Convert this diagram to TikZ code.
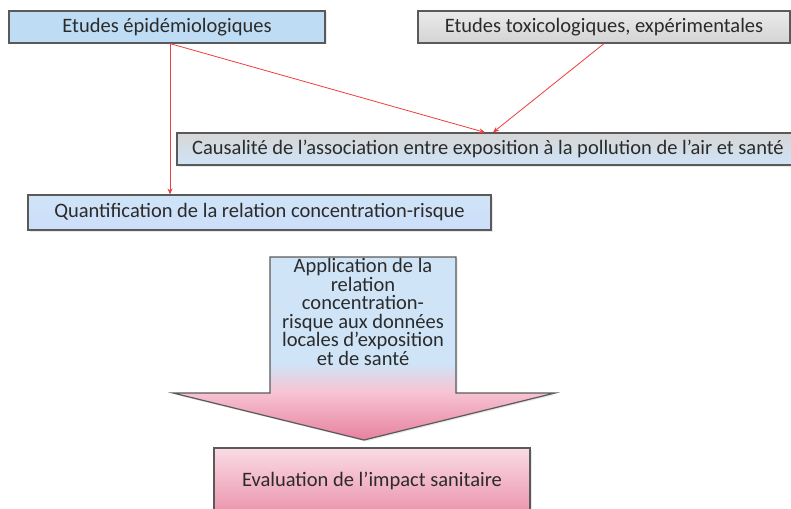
\documentclass[tikz,border=0pt]{standalone}
\usepackage{fontspec}
\setmainfont{Carlito}
\usetikzlibrary{shadows,arrows.meta}
\definecolor{txt}{HTML}{2B2B2B}
\definecolor{bord}{HTML}{5A5A5A}
\definecolor{lblue}{HTML}{BEDDF5}
\definecolor{lblueA}{HTML}{CFE4F7}
\definecolor{pinkA}{HTML}{F7C3D3}
\definecolor{pinkB}{HTML}{E7819F}
\definecolor{redline}{HTML}{F03C3C}
\pgfdeclareverticalshading{arrowshade}{100bp}{color(0bp)=(pinkB); color(25bp)=(pinkB); color(38bp)=(pinkA); color(46bp)=(lblueA); color(75bp)=(lblueA); color(100bp)=(lblueA)}
\begin{document}
\begin{tikzpicture}[x=1pt,y=-1pt,
  box/.style={draw=bord, line width=1.2pt, text=txt, inner sep=0pt,
    font=\fontsize{20.5}{18.5}\selectfont,
    drop shadow={opacity=0.18, shadow xshift=1.5pt, shadow yshift=-1.5pt}},
  link/.style={draw=redline, line width=0.8pt, -{Stealth[length=6pt,width=5pt]}}]
\useasboundingbox (0,0) rectangle (791,508);
\clip (0,0) rectangle (791,508);
\node[box, fill=lblue, minimum width=316pt, minimum height=32pt] (b1) at (167,27) {Etudes épidémiologiques};
\node[box, top color=white!92!black, bottom color=white!83!black, minimum width=372pt, minimum height=32pt] (b2) at (604,27) {Etudes toxicologiques, expérimentales};
\node[box, top color=white!84!black, bottom color=lblueA, minimum width=622pt, minimum height=32pt] (b3) at (488,149) {Causalité de l’association entre exposition à la pollution de l’air et santé};
\node[box, top color=lblueA, bottom color=lblue!90!blue!60!white, minimum width=463pt, minimum height=35pt] (b4) at (259.5,212.5) {Quantification de la relation concentration-risque};
\node[box, top color=pinkA!60!white, bottom color=pinkB!85!white, minimum width=316pt, minimum height=66pt] (b5) at (372,481) {Evaluation de l’impact sanitaire};
% big arrow
\path[draw=bord, line width=1.2pt, shading=arrowshade,
  drop shadow={opacity=0.18, shadow xshift=1.5pt, shadow yshift=-1.5pt}]
  (270,257) -- (456,257) -- (456,393) -- (555,393) -- (364,440) -- (173,393) -- (270,393) -- cycle;
\node[text=txt, align=center, font=\fontsize{20.5}{18.5}\selectfont, inner sep=0pt] (t) at (363,312)
  {Application de la\\relation\\concentration-\\risque aux données\\locales d’exposition\\et de santé};
% connectors
\draw[link] ([xshift=3pt]b1.south) -- ([xshift=3pt]b1.south |- b4.north);
\draw[link] ([xshift=3pt]b1.south) -- ([xshift=-3pt]b3.north);
\draw[link] (b2.south) -- ([xshift=5pt]b3.north);
\end{tikzpicture}
\end{document}
